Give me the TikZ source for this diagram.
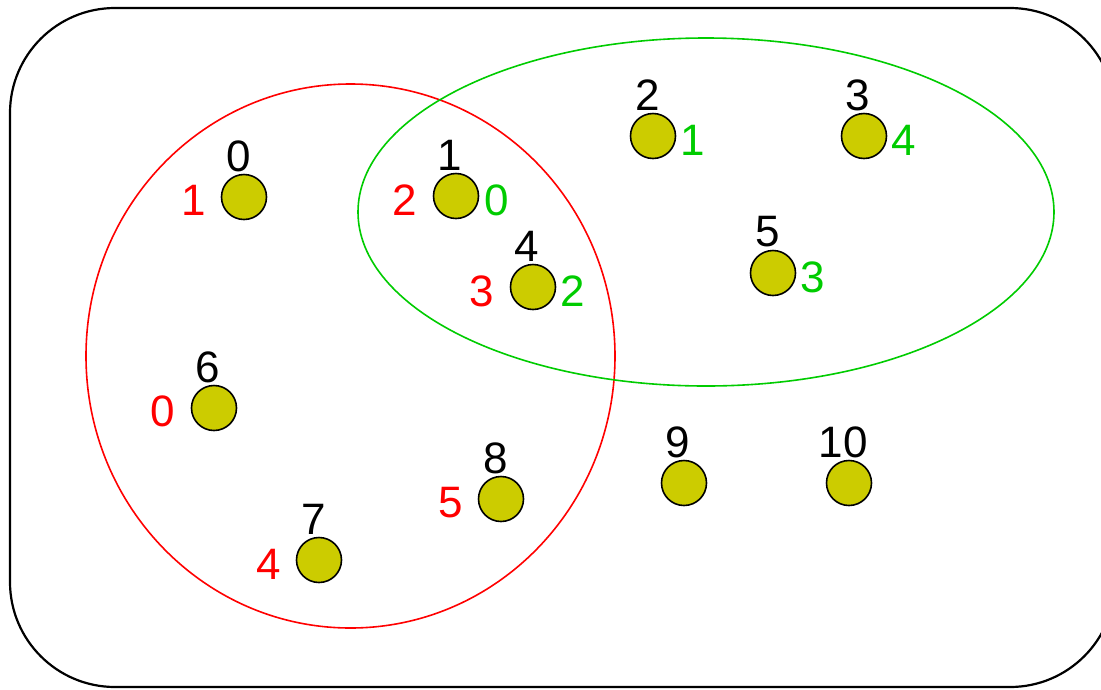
\documentclass[tikz,border=0pt]{standalone}
\usepackage{fontspec}
\setmainfont{Liberation Sans}
\definecolor{dotfill}{HTML}{CCCC00}
\definecolor{setred}{HTML}{FF0000}
\definecolor{setgreen}{HTML}{00CC00}
\begin{document}
\begin{tikzpicture}[x=1pt,y=-1pt,
  dot/.style={circle,draw=black,line width=1.6pt,fill=dotfill,minimum size=45pt,inner sep=0pt},
  num/.style={inner sep=0pt,font=\fontsize{44}{44}\selectfont},
  rnum/.style={num,text=setred},
  gnum/.style={num,text=setgreen}]
\useasboundingbox (0,0) rectangle (1101,689);
\fill[white] (0,0) rectangle (1101,689);
\draw[line width=2.2pt,rounded corners=105pt] (10,8) rectangle (1115,687);
\draw[setred,line width=1.6pt] (350.5,356) ellipse [x radius=264.5,y radius=272];
\draw[setgreen,line width=1.6pt] (706,212) ellipse [x radius=348,y radius=174];
% nodes
\node[dot] (n0) at (244,197) {};
\node[dot] (n1) at (456,196) {};
\node[dot] (n2) at (653,136) {};
\node[dot] (n3) at (864,136) {};
\node[dot] (n4) at (533,287) {};
\node[dot] (n5) at (773,273) {};
\node[dot] (n6) at (214,408) {};
\node[dot] (n7) at (319,560) {};
\node[dot] (n8) at (501,499) {};
\node[dot] (n9) at (684,483) {};
\node[dot] (n10) at (849,483) {};
% black labels
\node[num] (l0) at (239,156) {0};
\node[num] (l1) at (450,155) {1};
\node[num] (l2) at (648,95) {2};
\node[num] (l3) at (858,95) {3};
\node[num] (l4) at (527,246) {4};
\node[num] (l5) at (768,232) {5};
\node[num] (l6) at (208,367) {6};
\node[num] (l7) at (314,519) {7};
\node[num] (l8) at (496,458) {8};
\node[num] (l9) at (678,442) {9};
\node[num] (l10) at (843,442) {10};
% red labels
\node[rnum] (r0) at (194,200) {1};
\node[rnum] (r1) at (405,200) {2};
\node[rnum] (r4) at (482,291) {3};
\node[rnum] (r6) at (163,411) {0};
\node[rnum] (r7) at (269,564) {4};
\node[rnum] (r8) at (451,503) {5};
% green labels
\node[gnum] (g1) at (497,200) {0};
\node[gnum] (g2) at (693,140) {1};
\node[gnum] (g3) at (904,140) {4};
\node[gnum] (g4) at (573,291) {2};
\node[gnum] (g5) at (813,277) {3};
\end{tikzpicture}
\end{document}
